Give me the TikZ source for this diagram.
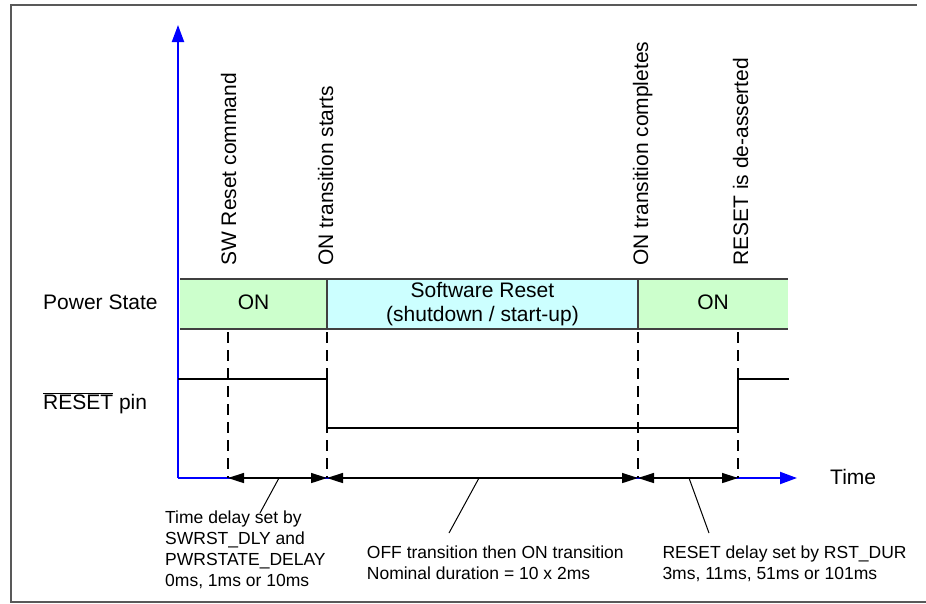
\documentclass[tikz,border=0pt]{standalone}
\usepackage{fontspec}
\setmainfont{Liberation Sans}
\usetikzlibrary{positioning}
\usetikzlibrary{arrows.meta}
\definecolor{stateOn}{RGB}{204,255,204}
\definecolor{stateSw}{RGB}{204,255,255}
\definecolor{axisBlue}{RGB}{0,0,255}
\newcommand{\lblfont}{\fontsize{21}{24.4}\selectfont}
\newcommand{\notefont}{\fontsize{17.5}{21.1}\selectfont}
\tikzstyle{stateD} = [rectangle,inner sep=0pt,outer sep=0pt,minimum height=50pt,text depth=4.4pt,font=\lblfont,node distance=0pt]
\tikzstyle{evt} = [rotate=90,anchor=base west,inner sep=0pt,font=\lblfont]
\tikzstyle{lbl} = [anchor=base west,inner sep=0pt,font=\lblfont]
\tikzstyle{note} = [anchor=north west,align=left,inner sep=0pt,font=\notefont]

\begin{document}
\begin{tikzpicture}[x=1pt,y=-1pt,
  axis/.style={draw=axisBlue,line width=2pt,-{Triangle[length=17pt,width=12pt]}},
  span/.style={draw=black,line width=1.6pt,{Triangle[length=16pt,width=10pt]}-{Triangle[length=16pt,width=10pt]}},
  guide/.style={draw=black,line width=1.4pt,dash pattern=on 11pt off 7pt},
  signal/.style={draw=black,line width=2pt},
  boxline/.style={draw=black!75,line width=2pt},
  leader/.style={draw=black,line width=1pt},
  frame/.style={draw=black!65,line width=1.6pt}]
\useasboundingbox (0,0) rectangle (926,603);
%\draw [help lines] (0,0) grid (926,603);

% Define nodes
\node[stateD, fill=stateOn, minimum width=147pt]                    (on1) at (253.5,304) {ON};
\node[stateD, fill=stateSw, minimum width=311pt, align=center, right = of on1] (sw) {Software Reset\\(shutdown / start-up)};
\node[stateD, fill=stateOn, minimum width=150pt, right = of sw]     (on2) {ON};

\node[lbl] (ps) at (43,309.3)  {Power State};
\node[lbl] (rp) at (43,409.3)  {$\overline{\hbox{RESET}}$ pin};
\node[lbl] (tm) at (830,484.3) {Time};

\node[evt] (e1) at (236,266) {SW Reset command};
\node[evt] (e2) at (333,266) {ON transition starts};
\node[evt] (e3) at (648,266) {ON transition completes};
\node[evt] (e4) at (748,266) {RESET is de-asserted};

\node[note] (n1) at (165,510.5)   {Time delay set by\\SWRST\_DLY and\\PWRSTATE\_DELAY\\0ms, 1ms or 10ms};
\node[note] (n2) at (366.7,545.5) {OFF transition then ON transition\\Nominal duration = 10 x 2ms};
\node[note] (n3) at (662.3,545.5) {RESET delay set by RST\_DUR\\3ms, 11ms, 51ms or 101ms};

% Time marks
\coordinate (O)    at (178,478);
\coordinate (ytop) at (178,25);
\coordinate (xend) at (797,478);
\coordinate (t1)   at (228,478);
\coordinate (t2)   at (sw.south west |- O);
\coordinate (t3)   at (sw.south east |- O);
\coordinate (t4)   at (738,478);
\coordinate (gtop) at (0,332);
\coordinate (hi)   at (0,379);
\coordinate (lo)   at (0,428);
\coordinate (rend) at (789,379);
\coordinate (l1a)  at (279,478);
\coordinate (l1b)  at (260,513);
\coordinate (l2a)  at (479,478);
\coordinate (l2b)  at (449,533);
\coordinate (l3a)  at (689,478);
\coordinate (l3b)  at (709,533);

% Frame
\draw[frame] (926,602) -- (11,602) -- (11,5) -- (917,5);

% Power state row
\draw[boxline] (on1.north west) -- (on2.north east);
\draw[boxline] (on1.south west) -- (on2.south east);
\draw[boxline] (sw.north west) -- (sw.south west);
\draw[boxline] (sw.north east) -- (sw.south east);

% Axes
\draw[axis] (O) -- (ytop);
\draw[axis] (O) -- (xend);

% Edges
\draw[guide] (t1 |- gtop) -- (t1);
\draw[guide] (t2 |- gtop) -- (t2);
\draw[guide] (t3 |- gtop) -- (t3);
\draw[guide] (t4 |- gtop) -- (t4);

\draw[signal] (O |- hi) -- (t2 |- hi) -- (t2 |- lo) -- (t4 |- lo) -- (t4 |- hi) -- (rend);

\draw[span] (t1) -- (t2);
\draw[span] (t2) -- (t3);
\draw[span] (t3) -- (t4);

\draw[leader] (l1a) -- (l1b);
\draw[leader] (l2a) -- (l2b);
\draw[leader] (l3a) -- (l3b);
\end{tikzpicture}
\end{document}
